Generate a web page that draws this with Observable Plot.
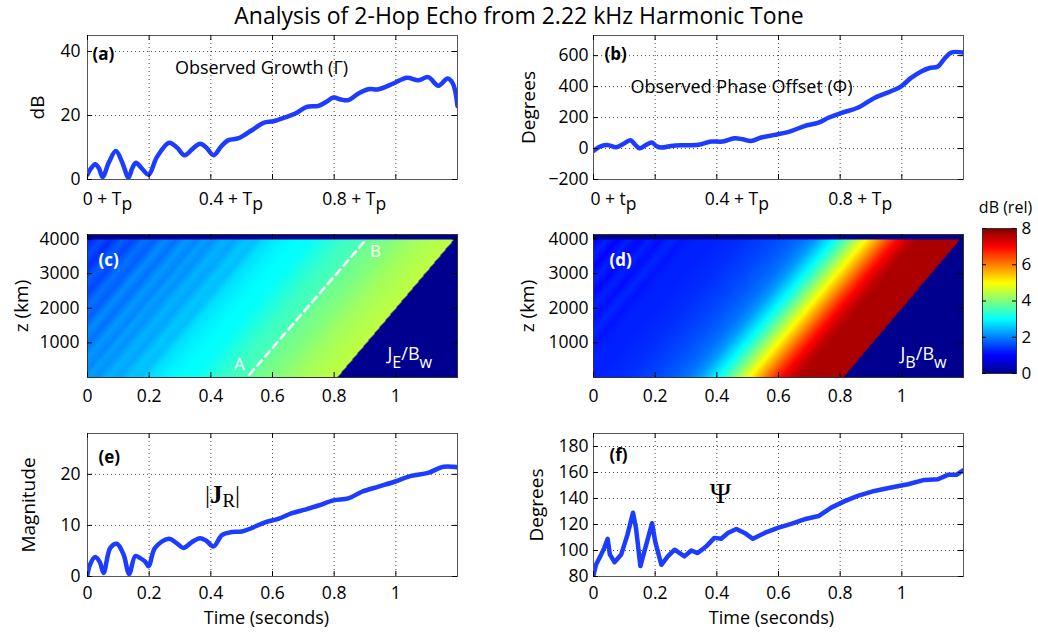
<!DOCTYPE html>
<html><head><meta charset="utf-8">
<script src="https://cdn.jsdelivr.net/npm/d3@7"></script>
<script src="https://cdn.jsdelivr.net/npm/@observablehq/plot@0.6"></script>
<style>
body{margin:0;background:#fff;}
#root{position:relative;width:1038px;height:633px;font-family:"Open Sans",sans-serif;overflow:hidden;background:#fff;}
#root > div.p{position:absolute;}
#title{position:absolute;left:0;width:1038px;top:0px;text-align:center;font-size:23px;line-height:30px;color:#000;}
</style></head><body>
<div id="root"><div id="title">Analysis of 2-Hop Echo from 2.22 kHz Harmonic Tone</div></div>
<script>
// ---------- data ----------
const timeDomain = [0, 1.2];
const gridXTicks = [0.2, 0.4, 0.6, 0.8, 1.0];
const innerXTicks = [0, 0.2, 0.4, 0.6, 0.8, 1.0];
const topXTicks = [0, 0.4, 0.8];
const growthXLabels = ["0 + T_p", "0.4 + T_p", "0.8 + T_p"];
const phaseXLabels = ["0 + t_p", "0.4 + T_p", "0.8 + T_p"];
const timeTicks = [0, 0.2, 0.4, 0.6, 0.8, 1];

// (a) Observed growth (dB)
const growthT = [0, 0.008, 0.025, 0.037, 0.049, 0.07, 0.092, 0.112, 0.133, 0.145, 0.157, 0.176, 0.198, 0.225, 0.265, 0.29, 0.315, 0.34, 0.365, 0.385, 0.409, 0.435, 0.457, 0.49, 0.533, 0.571, 0.603, 0.641, 0.674, 0.711, 0.749, 0.775, 0.798, 0.822, 0.846, 0.879, 0.911, 0.944, 0.992, 1.036, 1.073, 1.105, 1.138, 1.168, 1.185, 1.2];
const growthDb = [1.5, 3.0, 4.8, 3.5, 0.8, 5.5, 8.9, 5.5, 0.6, 3.5, 5.2, 3.5, 1.5, 7.0, 11.5, 10.0, 7.6, 9.5, 11.2, 10.0, 7.6, 10.5, 12.3, 12.9, 15.4, 17.7, 18.2, 19.4, 20.6, 22.7, 23.0, 24.3, 25.6, 25.0, 24.8, 26.9, 28.2, 28.2, 30.0, 31.8, 31.0, 32.0, 29.3, 31.6, 30.0, 23.0];
const growthYTicks = [0, 20, 40];

// (b) Observed phase offset (degrees)
const phaseT = [0, 0.025, 0.046, 0.074, 0.095, 0.12, 0.135, 0.149, 0.171, 0.189, 0.205, 0.22, 0.252, 0.284, 0.317, 0.349, 0.382, 0.419, 0.457, 0.484, 0.511, 0.544, 0.587, 0.641, 0.684, 0.73, 0.762, 0.805, 0.857, 0.911, 0.965, 0.998, 1.03, 1.063, 1.09, 1.117, 1.138, 1.16, 1.2];
const phaseDeg = [-15, 15, 22, 8, 28, 53, 25, 2, 24, 39, 15, 6, 17, 21, 21, 28, 45, 45, 66, 60, 49, 71, 88, 113, 145, 167, 199, 231, 263, 327, 370, 402, 456, 498, 520, 530, 580, 620, 620];
const phaseYTicks = [-200, 0, 200, 400, 600];

// (c),(d) field profiles along retarded time tau = t - z * slope
const jeTau = [-0.40, -0.37, -0.335, -0.30, -0.265, -0.23, -0.195, -0.16, -0.125, -0.09, -0.055, -0.02, 0.0, 0.03, 0.065, 0.10, 0.135, 0.17, 0.20, 0.25, 0.30, 0.35, 0.40, 0.45, 0.50, 0.52, 0.535, 0.58, 0.62, 0.66, 0.70, 0.75, 0.81];
const jeDb  = [1.4, 1.25, 1.6, 1.35, 1.75, 1.55, 1.9, 1.75, 2.1, 1.9, 2.2, 2.05, 2.25, 2.15, 2.4, 2.3, 2.55, 2.5, 2.75, 2.9, 3.0, 3.05, 3.25, 3.45, 3.55, 3.6, 3.85, 3.95, 4.05, 4.2, 4.3, 4.4, 4.5];
const jbTau = [-0.40, -0.37, -0.335, -0.30, -0.265, -0.23, -0.195, -0.16, -0.125, -0.09, -0.05, 0.0, 0.05, 0.10, 0.15, 0.20, 0.25, 0.30, 0.34, 0.37, 0.40, 0.43, 0.46, 0.49, 0.52, 0.55, 0.58, 0.61, 0.64, 0.67, 0.81];
const jbDb  = [1.1, 1.0, 1.25, 1.0, 1.25, 1.05, 1.25, 1.1, 1.3, 1.15, 1.25, 1.25, 1.3, 1.35, 1.45, 1.55, 1.7, 1.9, 2.2, 2.6, 3.0, 3.5, 4.1, 4.7, 5.3, 5.9, 6.5, 7.0, 7.4, 7.65, 7.65];
const retardSlope = 0.38 / 4000;   // s per km
const cutoffTau = 0.81;
const fieldTopKm = 4000;
const zDomain = [0, 4130];
const zTicks = [1000, 2000, 3000, 4000];
const abLineT = [0.525, 0.905];
const abLineZ = [80, 4000];
const abLabels = ["A", "B"];

// (e) |J_R|
const magT = [0, 0.008, 0.025, 0.04, 0.052, 0.074, 0.095, 0.117, 0.135, 0.155, 0.171, 0.187, 0.198, 0.219, 0.263, 0.29, 0.311, 0.34, 0.365, 0.385, 0.409, 0.436, 0.468, 0.5, 0.533, 0.576, 0.619, 0.663, 0.706, 0.749, 0.798, 0.846, 0.89, 0.944, 0.998, 1.05, 1.105, 1.155, 1.2];
const magVal = [0.4, 2.3, 3.8, 2.8, 0.7, 5.6, 6.4, 4.3, 0.5, 4.0, 3.6, 2.9, 2.0, 5.6, 7.4, 6.5, 5.6, 6.8, 7.5, 7.0, 5.9, 8.1, 8.7, 8.8, 9.5, 10.6, 11.3, 12.4, 13.1, 13.9, 14.9, 15.3, 16.6, 17.6, 18.6, 19.7, 20.3, 21.5, 21.4];
const magYTicks = [0, 10, 20];

// (f) Psi
const psiT = [0, 0.008, 0.025, 0.035, 0.046, 0.053, 0.068, 0.09, 0.11, 0.128, 0.138, 0.152, 0.171, 0.19, 0.2, 0.22, 0.241, 0.263, 0.295, 0.317, 0.338, 0.365, 0.392, 0.414, 0.436, 0.463, 0.49, 0.517, 0.555, 0.598, 0.641, 0.684, 0.73, 0.771, 0.815, 0.857, 0.911, 0.965, 1.02, 1.073, 1.117, 1.149, 1.177, 1.2];
const psiDeg = [81, 89, 97, 102, 109, 97, 91, 97, 112, 129, 117, 88, 104.5, 121, 107, 89, 95.5, 100.6, 95.5, 100, 98, 103, 109.7, 109, 113.5, 116.6, 113.5, 109, 113.5, 117.4, 120.5, 124, 126.5, 133, 138, 142, 145.8, 148.4, 151, 154.3, 154.8, 158.2, 158.2, 161.8];
const psiYTicks = [80, 100, 120, 140, 160, 180];

// colour map (jet) and colorbar
const jetStops = [0, 1, 3, 5, 7, 8];
const jetColors = ["#00008F", "#0000FF", "#00FFFF", "#FFFF00", "#FF0000", "#800000"];
const colorbarTicks = [0, 2, 4, 6, 8];

// ---------- helpers ----------
const root = document.getElementById("root");
const NS = "http://www.w3.org/2000/svg";
const lineBlue = "#1c3cff";
const baseStyle = {fontFamily: "Open Sans", fontSize: "17.5px", color: "#000", background: "transparent", overflow: "visible"};
const colorOpts = {type: "linear", domain: jetStops, range: jetColors, clamp: true};

function mount(svg, left, top) {
  const d = document.createElement("div");
  d.className = "p"; d.style.left = left + "px"; d.style.top = top + "px";
  d.appendChild(svg); root.appendChild(d);
  specialText(svg);
  subscriptify(svg);
}
function specialText(svg) {
  for (const el of svg.querySelectorAll("text")) {
    if (el.textContent === "|J_R|") {
      el.textContent = "";
      const mk = (txt, attrs) => { const t = document.createElementNS(NS, "tspan"); t.textContent = txt; for (const k in attrs) t.setAttribute(k, attrs[k]); el.appendChild(t); };
      mk("|", {});
      mk("J", {"font-weight": "bold"});
      mk("R", {"font-size": "19px", dy: 4});
      mk("|", {dy: -4});
    }
  }
}
function subscriptify(svg) {
  const els = [...svg.querySelectorAll("text, tspan")].filter(el => el.children.length === 0 && el.textContent.includes("_"));
  for (const el of els) {
    const s = el.textContent;
    const fs = parseFloat(getComputedStyle(el).fontSize) || 16;
    const big = fs >= 18;
    const shift = big ? fs * 0.42 : fs * 0.28;
    const parts = s.split(/(_\{[^}]*\}|_[^\s{])/).filter(p => p);
    el.textContent = "";
    let down = false;
    for (const p of parts) {
      const ts = document.createElementNS(NS, "tspan");
      if (p[0] === "_") {
        ts.textContent = p[1] === "{" ? p.slice(2, -1) : p.slice(1);
        if (big) ts.setAttribute("font-size", (fs * 0.9) + "px");
        if (!down) { ts.setAttribute("dy", shift); down = true; }
      } else {
        ts.textContent = p;
        if (down) { ts.setAttribute("dy", -shift); down = false; }
      }
      el.appendChild(ts);
    }
  }
}
function innerTicks(xs, ys, fw, fh, len = 5) {
  return [
    Plot.tickX(xs, {x: d => d, insetTop: fh - len, stroke: "#000"}),
    Plot.tickX(xs, {x: d => d, insetBottom: fh - len, stroke: "#000"}),
    Plot.tickY(ys, {y: d => d, insetRight: fw - len, stroke: "#000"}),
    Plot.tickY(ys, {y: d => d, insetLeft: fw - len, stroke: "#000"})
  ];
}
function gridMarks(ys) {
  const g = {stroke: "#000", strokeOpacity: 0.7, strokeDasharray: "1,3"};
  return [Plot.ruleX(gridXTicks, {x: d => d, ...g}), Plot.ruleY(ys, {y: d => d, ...g})];
}
function yLabel(txt, dx) {
  return Plot.text([txt], {text: d => d, frameAnchor: "left", rotate: -90, dx, fontSize: 19, textAnchor: "middle", lineAnchor: "middle"});
}
function note(txt, opts) {
  return Plot.text([txt], {text: d => d, lineAnchor: "middle", ...opts});
}
function panelTag(txt, dx, dy, fill = "#000") {
  return note(txt, {frameAnchor: "top-left", textAnchor: "start", dx, dy, fontWeight: "bold", fontSize: 17, fill});
}
function profileValue(taus, vals, tau) {
  if (tau <= taus[0]) return vals[0];
  const i = d3.bisectRight(taus, tau);
  if (i >= taus.length) return vals[vals.length - 1];
  const f = (tau - taus[i - 1]) / (taus[i] - taus[i - 1]);
  return vals[i - 1] * (1 - f) + vals[i] * f;
}
function fieldFn(taus, vals) {
  return (t, z) => {
    if (z > fieldTopKm) return 0;
    const tau = t - retardSlope * z;
    if (tau > cutoffTau) return 0;
    return profileValue(taus, vals, tau);
  };
}

const FW = 370, FH = 144;

// ---------- (a) ----------
mount(Plot.plot({
  width: 520, height: 215, marginLeft: 87, marginRight: 63, marginTop: 35, marginBottom: 36,
  style: baseStyle,
  x: {domain: timeDomain}, y: {domain: [0, 45]},
  marks: [
    ...gridMarks([20, 40]),
    Plot.line(growthT, {x: growthT, y: growthDb, stroke: lineBlue, strokeWidth: 4.5, curve: "catmull-rom", clip: true}),
    Plot.frame({stroke: "#555"}),
    ...innerTicks(innerXTicks, growthYTicks, FW, FH),
    Plot.axisX({ticks: topXTicks, tickFormat: d => growthXLabels[topXTicks.indexOf(d)], tickSize: 0, tickPadding: 13, dx: 20, label: null}),
    Plot.axisY({ticks: growthYTicks, tickFormat: d => String(d), tickSize: 0, tickPadding: 7, label: null}),
    yLabel("dB", -50),
    panelTag("(a)", 5, 19),
    note("Observed Growth (Γ)", {frameAnchor: "top-left", textAnchor: "middle", dx: 174, dy: 33, fontSize: 18})
  ]
}), 0, 0);

// ---------- (b) ----------
mount(Plot.plot({
  width: 518, height: 215, marginLeft: 73, marginRight: 75, marginTop: 35, marginBottom: 36,
  style: baseStyle,
  x: {domain: timeDomain}, y: {domain: [-200, 730]},
  marks: [
    ...gridMarks([0, 200, 400, 600]),
    Plot.line(phaseT, {x: phaseT, y: phaseDeg, stroke: lineBlue, strokeWidth: 4.5, curve: "catmull-rom", clip: true}),
    Plot.frame({stroke: "#555"}),
    ...innerTicks(innerXTicks, phaseYTicks, FW, FH),
    Plot.axisX({ticks: topXTicks, tickFormat: d => phaseXLabels[topXTicks.indexOf(d)], tickSize: 0, tickPadding: 13, dx: 20, label: null}),
    Plot.axisY({ticks: phaseYTicks, tickSize: 0, tickPadding: 5, label: null}),
    yLabel("Degrees", -65),
    panelTag("(b)", 11, 19),
    note("Observed Phase Offset (Φ)", {frameAnchor: "top-left", textAnchor: "middle", dx: 148, dy: 52, fontSize: 18})
  ]
}), 520, 0);

// ---------- (c) ----------
mount(Plot.plot({
  width: 520, height: 195, marginLeft: 87, marginRight: 63, marginTop: 19, marginBottom: 33,
  style: baseStyle,
  x: {domain: timeDomain}, y: {domain: zDomain}, color: colorOpts,
  marks: [
    Plot.raster({fill: fieldFn(jeTau, jeDb), x1: 0, x2: 1.2, y1: zDomain[0], y2: zDomain[1]}),
    Plot.line(abLineT, {x: abLineT, y: abLineZ, stroke: "white", strokeWidth: 2.5, strokeDasharray: "7,5"}),
    Plot.text([abLabels[0]], {x: [abLineT[0]], y: [abLineZ[0]], text: d => d, dx: -10, dy: -10, fill: "white", fontSize: 17}),
    Plot.text([abLabels[1]], {x: [abLineT[1]], y: [abLineZ[1]], text: d => d, dx: 9, dy: 13, fill: "white", fontSize: 17}),
    Plot.frame({stroke: "#333"}),
    ...innerTicks(innerXTicks, zTicks, FW, 143),
    Plot.axisX({ticks: timeTicks, tickFormat: d => String(d), tickSize: 0, tickPadding: 12, label: null}),
    Plot.axisY({ticks: zTicks, tickFormat: d => String(d), tickSize: 0, tickPadding: 8, label: null}),
    yLabel("z (km)", -66),
    panelTag("(c)", 11, 26, "white"),
    note("J_E/B_w", {frameAnchor: "bottom-right", textAnchor: "start", dx: -70, dy: -23, fill: "white", fontSize: 18})
  ]
}), 0, 215);

// ---------- (d) ----------
mount(Plot.plot({
  width: 518, height: 195, marginLeft: 73, marginRight: 75, marginTop: 19, marginBottom: 33,
  style: baseStyle,
  x: {domain: timeDomain}, y: {domain: zDomain}, color: colorOpts,
  marks: [
    Plot.raster({fill: fieldFn(jbTau, jbDb), x1: 0, x2: 1.2, y1: zDomain[0], y2: zDomain[1]}),
    Plot.frame({stroke: "#333"}),
    ...innerTicks(innerXTicks, zTicks, FW, 143),
    Plot.axisX({ticks: timeTicks, tickFormat: d => String(d), tickSize: 0, tickPadding: 12, label: null}),
    Plot.axisY({ticks: zTicks, tickFormat: d => String(d), tickSize: 0, tickPadding: 5, label: null}),
    yLabel("z (km)", -66),
    panelTag("(d)", 16, 26, "white"),
    note("J_B/B_w", {frameAnchor: "bottom-right", textAnchor: "start", dx: -63, dy: -23, fill: "white", fontSize: 18})
  ]
}), 520, 215);

// ---------- colorbar ----------
mount(Plot.plot({
  width: 78, height: 195, marginLeft: 22, marginRight: 22, marginTop: 38, marginBottom: 12,
  style: baseStyle,
  x: {domain: [0, 1]}, y: {domain: [0, 8]}, color: colorOpts,
  marks: [
    Plot.raster({fill: (x, y) => y, x1: 0, x2: 1, y1: 0, y2: 8}),
    Plot.frame({stroke: "#333"}),
    Plot.tickY(colorbarTicks, {y: d => d, insetRight: 30, stroke: "#000"}),
    Plot.tickY(colorbarTicks, {y: d => d, insetLeft: 30, stroke: "#000"}),
    Plot.axisY({anchor: "right", ticks: colorbarTicks, tickFormat: d => String(d), tickSize: 0, tickPadding: 5, label: null, fontSize: 17}),
    Plot.axisX({ticks: [], label: null}),
    note("dB (rel)", {frameAnchor: "top", dx: 6, dy: -21, fontSize: 16})
  ]
}), 960, 190);

// ---------- (e) ----------
mount(Plot.plot({
  width: 520, height: 223, marginLeft: 87, marginRight: 63, marginTop: 23, marginBottom: 57,
  style: baseStyle,
  x: {domain: timeDomain}, y: {domain: [0, 28]},
  marks: [
    ...gridMarks([10, 20]),
    Plot.line(magT, {x: magT, y: magVal, stroke: lineBlue, strokeWidth: 4.5, curve: "catmull-rom", clip: true}),
    Plot.frame({stroke: "#555"}),
    ...innerTicks(innerXTicks, magYTicks, FW, 143),
    Plot.axisX({ticks: timeTicks, tickFormat: d => String(d), tickSize: 0, tickPadding: 10, label: null}),
    Plot.axisY({ticks: magYTicks, tickFormat: d => String(d), tickSize: 0, tickPadding: 7, label: null}),
    yLabel("Magnitude", -59),
    note("Time (seconds)", {frameAnchor: "bottom", dx: -6, dy: 42, fontSize: 18}),
    panelTag("(e)", 11, 24),
    note("|J_R|", {frameAnchor: "top-left", textAnchor: "middle", dx: 135, dy: 61, fontSize: 25, fontFamily: "Liberation Serif"})
  ]
}), 0, 410);

// ---------- (f) ----------
mount(Plot.plot({
  width: 518, height: 223, marginLeft: 73, marginRight: 75, marginTop: 23, marginBottom: 57,
  style: baseStyle,
  x: {domain: timeDomain}, y: {domain: [80, 190]},
  marks: [
    ...gridMarks([100, 120, 140, 160, 180]),
    Plot.line(psiT, {x: psiT, y: psiDeg, stroke: lineBlue, strokeWidth: 4.5, clip: true}),
    Plot.frame({stroke: "#555"}),
    ...innerTicks(innerXTicks, psiYTicks, FW, 143),
    Plot.axisX({ticks: timeTicks, tickFormat: d => String(d), tickSize: 0, tickPadding: 10, label: null}),
    Plot.axisY({ticks: psiYTicks, tickFormat: d => String(d), tickSize: 0, tickPadding: 5, label: null}),
    yLabel("Degrees", -57),
    note("Time (seconds)", {frameAnchor: "bottom", dx: -7, dy: 42, fontSize: 18}),
    panelTag("(f)", 16, 22),
    note("Ψ", {frameAnchor: "top-left", textAnchor: "middle", dx: 127, dy: 60, fontSize: 29, fontFamily: "Liberation Serif"})
  ]
}), 520, 410);
</script></body></html>
